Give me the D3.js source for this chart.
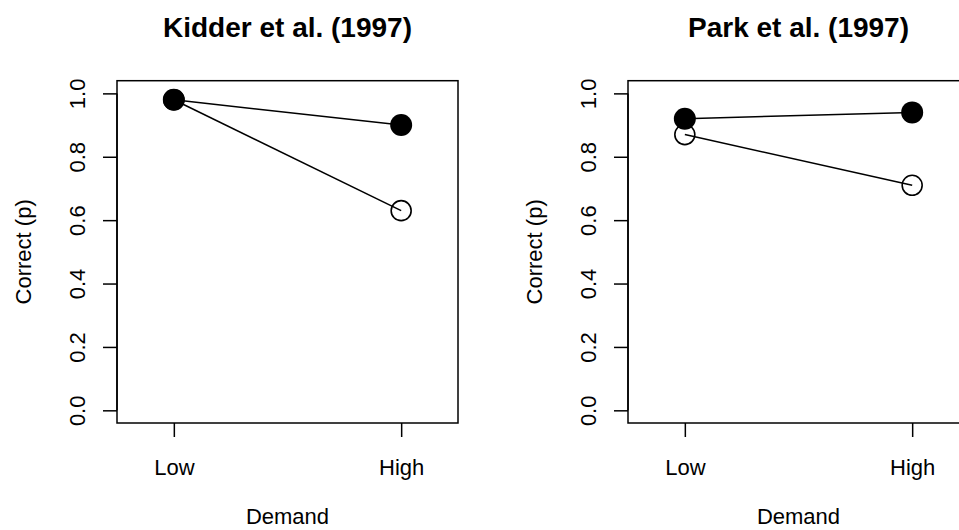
<!DOCTYPE html>
<html>
<head>
<meta charset="utf-8">
<script src="https://cdn.jsdelivr.net/npm/d3@7"></script>
<style>
  body { margin: 0; background: #fff; }
  svg { display: block; font-family: "Liberation Sans", Arial, Helvetica, sans-serif; }
</style>
</head>
<body>
<div id="chart"></div>
<script>
// Data
const demand = ['Low', 'High'];
const titles = ['Kidder et al. (1997)', 'Park et al. (1997)'];
const kidderFilled = [0.98, 0.90];
const kidderOpen = [0.98, 0.63];
const parkFilled = [0.92, 0.94];
const parkOpen = [0.87, 0.71];
const yTicks = [0, 0.2, 0.4, 0.6, 0.8, 1.0];

const panels = [
    { title: titles[0], filled: kidderFilled, open: kidderOpen, left: 117 },
    { title: titles[1], filled: parkFilled, open: parkOpen, left: 628 }
];

const width = 959, height = 530;
const boxTop = 80.7, boxBottom = 423, boxWidth = 341;

const svg = d3.select('#chart').append('svg')
    .attr('width', width)
    .attr('height', height);

panels.forEach(p => {
    const g = svg.append('g');

    const x = d3.scalePoint()
        .domain(demand)
        .range([p.left, p.left + boxWidth])
        .padding(0.25);

    // R style: 4% extension beyond the data range
    const y = d3.scaleLinear()
        .domain([-0.04, 1.04])
        .range([boxBottom, boxTop]);

    // Box
    g.append('rect')
        .attr('x', p.left)
        .attr('y', boxTop)
        .attr('width', boxWidth)
        .attr('height', boxBottom - boxTop)
        .style('fill', 'none')
        .style('stroke', '#000')
        .style('stroke-width', 1.5);

    // Y axis
    const yAxis = g.append('g')
        .attr('transform', `translate(${p.left},0)`)
        .call(d3.axisLeft(y).tickValues(yTicks).tickSize(14).tickFormat(d3.format('.1f')));
    yAxis.select('.domain')
        .attr('d', `M0,${y(0)}V${y(1)}`)
        .style('stroke-width', 1.5);
    yAxis.selectAll('.tick line').style('stroke-width', 1.5);
    yAxis.selectAll('.tick text')
        .attr('x', null).attr('dy', null)
        .attr('transform', 'translate(-32,0) rotate(-90)')
        .attr('text-anchor', 'middle')
        .style('font-size', '22px')
        .style('fill', '#000');

    // X axis
    const xAxis = g.append('g')
        .attr('transform', `translate(0,${boxBottom})`)
        .call(d3.axisBottom(x).tickSize(14));
    xAxis.select('.domain').remove();
    xAxis.selectAll('.tick line').style('stroke-width', 1.5);
    xAxis.selectAll('.tick text')
        .attr('y', 52).attr('dy', null)
        .style('font-size', '22px')
        .style('fill', '#000');

    // Axis titles
    g.append('text')
        .attr('x', p.left + boxWidth / 2)
        .attr('y', 524)
        .attr('text-anchor', 'middle')
        .style('font-size', '22px')
        .text('Demand');

    g.append('text')
        .attr('transform', `translate(${p.left - 86},${(boxTop + boxBottom) / 2}) rotate(-90)`)
        .attr('text-anchor', 'middle')
        .style('font-size', '22px')
        .text('Correct (p)');

    // Title
    g.append('text')
        .attr('x', p.left + boxWidth / 2)
        .attr('y', 37)
        .attr('text-anchor', 'middle')
        .style('font-size', '28px')
        .style('font-weight', 'bold')
        .text(p.title);

    const line = d3.line()
        .x((d, i) => x(demand[i]))
        .y(d => y(d));

    // Open series first, filled on top
    g.append('path')
        .attr('d', line(p.open))
        .style('fill', 'none')
        .style('stroke', '#000')
        .style('stroke-width', 1.5);
    g.selectAll('circle.open')
        .data(p.open)
        .enter()
        .append('circle')
        .attr('class', 'open')
        .attr('cx', (d, i) => x(demand[i]))
        .attr('cy', d => y(d))
        .attr('r', 10)
        .style('fill', 'none')
        .style('stroke', '#000')
        .style('stroke-width', 1.6);

    g.append('path')
        .attr('d', line(p.filled))
        .style('fill', 'none')
        .style('stroke', '#000')
        .style('stroke-width', 1.5);
    g.selectAll('circle.filled')
        .data(p.filled)
        .enter()
        .append('circle')
        .attr('class', 'filled')
        .attr('cx', (d, i) => x(demand[i]))
        .attr('cy', d => y(d))
        .attr('r', 11)
        .style('fill', '#000');
});
</script>
</body>
</html>
